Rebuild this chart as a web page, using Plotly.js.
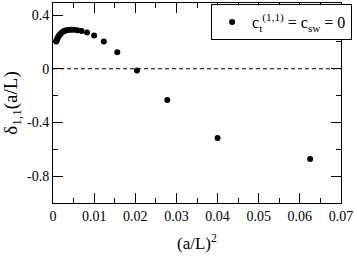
<!DOCTYPE html>
<html>
<head>
<meta charset="utf-8">
<script src="https://cdn.plot.ly/plotly-3.0.1.min.js"></script>
<style>html,body{margin:0;padding:0;background:#fff;}#chart{width:357px;height:256px;}
#chart text{font-family:"Liberation Serif","DejaVu Serif",serif !important;}</style>
</head>
<body>
<div id="chart"></div>
<script>
// (a/L)^2 values, L/a = 4 ... 36
var Lvals = [4,5,6,7,8,9,10,11,12,13,14,15,16,17,18,19,20,22,24,26,28,30,32,34,36];
var xVals = Lvals.map(function(L){ return 1/(L*L); });
var deltaVals = [-0.672,-0.515,-0.232,-0.013,0.123,0.204,0.248,0.270,0.281,0.287,0.290,0.291,0.290,0.288,0.285,0.281,0.277,0.268,0.258,0.248,0.238,0.228,0.219,0.211,0.204];
var refX = [0, 0.07];
var refY = [0, 0];
var yTickVals = [0.4, 0, -0.4, -0.8];
var yTickText = ["0.4", "0", "-0.4", "-0.8"];
var xTickVals = [0, 0.01, 0.02, 0.03, 0.04, 0.05, 0.06, 0.07];
var xTickText = ["0", "0.01", "0.02", "0.03", "0.04", "0.05", "0.06", "0.07"];

var serif = "Liberation Serif";

var traces = [
  {x: refX, y: refY, mode: 'lines', line: {color: 'black', width: 1, dash: '4px,3px'}, showlegend: false, hoverinfo: 'skip'},
  {x: xVals, y: deltaVals, mode: 'markers', marker: {color: 'black', size: 6},
   name: 'c<sub>t</sub><sup>(1,1)</sup> = c<sub>sw</sub> = 0'}
];

var axisCommon = {
  showgrid: false, zeroline: false, showline: true, linecolor: 'black', linewidth: 1,
  mirror: 'allticks', ticks: 'inside', ticklen: 10, tickcolor: 'black', tickwidth: 1,
  tickfont: {family: serif, size: 14, color: 'black'}
};

var layout = {
  width: 357, height: 256,
  margin: {l: 53, r: 16, t: 3, b: 53},
  paper_bgcolor: 'white', plot_bgcolor: 'white',
  font: {family: serif, color: 'black'},
  showlegend: true,
  legend: {x: 0.549, y: 0.995, xanchor: 'left', yanchor: 'top', bordercolor: 'black', borderwidth: 1,
           bgcolor: 'white', font: {family: serif, size: 16, color: 'black'}},
  xaxis: Object.assign({}, axisCommon, {
    range: [0, 0.07], tickmode: 'array', tickvals: xTickVals, ticktext: xTickText,
    minor: {ticks: 'inside', ticklen: 5, dtick: 0.005, tick0: 0, tickcolor: 'black', showgrid: false},
    title: {text: '(a/L)<sup>2</sup>', font: {family: serif, size: 17, color: 'black'}, standoff: 14}
  }),
  yaxis: Object.assign({}, axisCommon, {
    range: [-1.0, 0.49], tickmode: 'array', tickvals: yTickVals, ticktext: yTickText,
    minor: {ticks: 'inside', ticklen: 5, dtick: 0.2, tick0: 0, tickcolor: 'black', showgrid: false},
    title: {text: 'δ<sub>1,1</sub>(a/L)', font: {family: serif, size: 19, color: 'black'}, standoff: 6}
  })
};

Plotly.newPlot('chart', traces, layout, {staticPlot: true, displayModeBar: false});
</script>
</body>
</html>
